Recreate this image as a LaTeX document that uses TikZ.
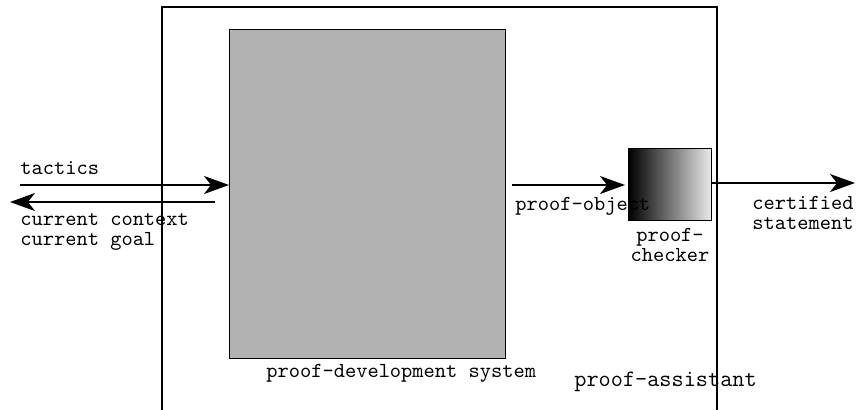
\documentclass[tikz,border=0pt]{standalone}
\usetikzlibrary{arrows.meta,positioning}
\newcommand{\lbl}{\ttfamily\fontsize{10.7}{10}\selectfont}
\newcommand{\biglbl}{\ttfamily\fontsize{11.8}{11}\selectfont}

\begin{document}
\begin{tikzpicture}[x=0.5pt,y=-0.5pt,
      post/.style={-{Stealth[length=12.5pt,width=9pt,inset=3.5pt]},line width=0.8pt},
      box/.style={draw,line width=0.7pt,inner sep=0pt},
      txt/.style={font=\lbl,inner sep=0pt,align=left,anchor=west}
      ]
      \useasboundingbox (0,0) rectangle (856,409);
      \clip (0,0) rectangle (856,409);

      % the assistant frame runs off the bottom edge
      \draw[line width=0.7pt] (162,7) rectangle (717,440);

      \node[box, fill=black!30, anchor=north west,
            minimum width=138pt, minimum height=164.5pt] (pds) at (229,29) {};
      \node[box, left color=black, right color=white!92!black, anchor=north west,
            minimum width=41.5pt, minimum height=36pt] (chk) at (628,148) {};

      \coordinate (usr-in) at (20,185);
      \coordinate (usr-out) at (10,202);
      \coordinate (pds-out) at (215,202);
      \coordinate (cert) at (855,183);

      \draw[post] (usr-in)--(usr-in -| pds.west);
      \draw[post] (pds-out)--(usr-out);
      \draw[post,shorten <=3pt,shorten >=1.5pt] (pds.east |- 0,185)--(chk.west |- 0,185);
      \draw[post] (chk.east |- 0,183)--(cert);

      \node[txt] (tac) at (20,168) {tactics};
      \node[txt] (ctx) at (20,232) {current context\\current goal};
      \node[txt] (pobj) at (515,206) {proof-object};
      \node[txt, align=center, anchor=north] (chklbl) at (670,228) {proof-\\checker};
      \node[txt] (certlbl) at (752,213) {certified\\statement};
      \node[txt] (pdslbl) at (266,373) {proof-development system};
      \node[txt, font=\biglbl] (palbl) at (574,382) {proof-assistant};
    \end{tikzpicture}
\end{document}
